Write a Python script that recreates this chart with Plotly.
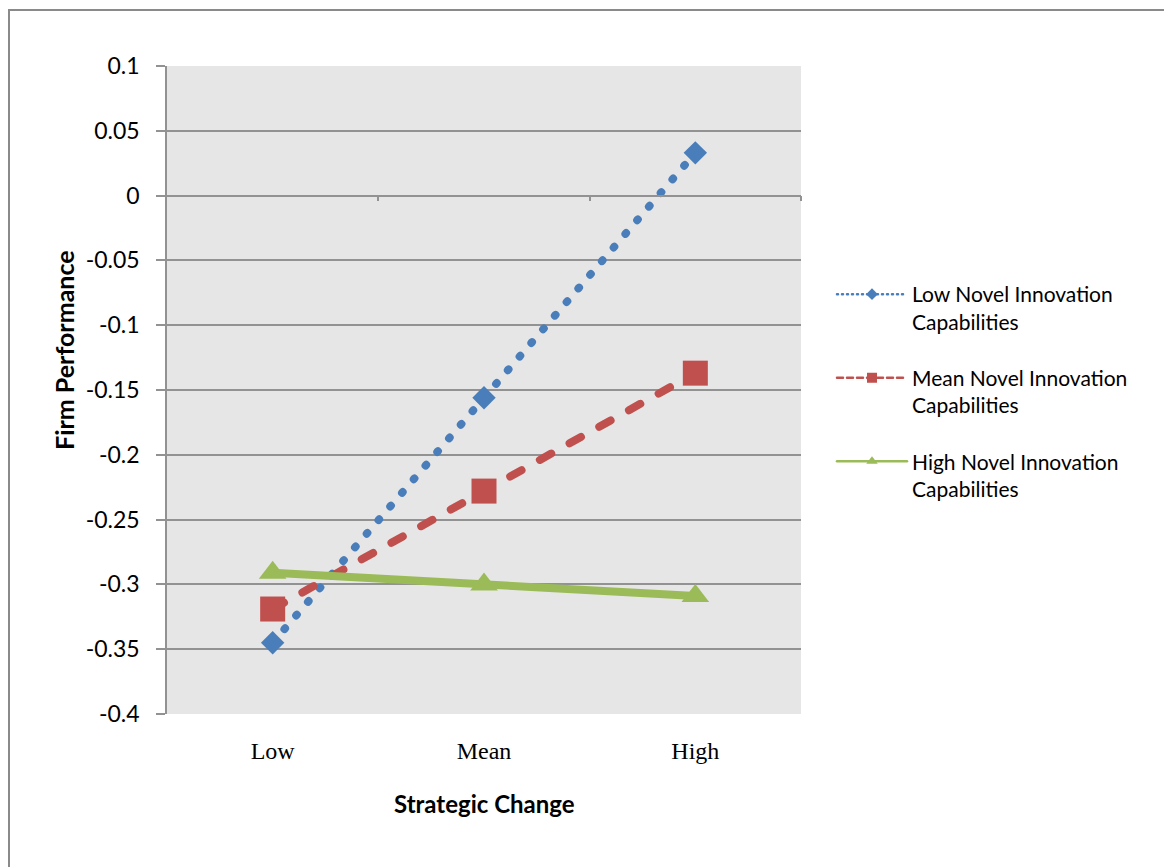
import plotly.graph_objects as go

# Strategic change levels on the x axis
categories = ["Low", "Mean", "High"]

# Simple slopes of firm performance for three levels of novel innovation capabilities
low_nic = [-0.345, -0.156, 0.033]
mean_nic = [-0.319, -0.228, -0.137]
high_nic = [-0.291, -0.300, -0.309]

series_names = [
    "Low Novel Innovation<br>Capabilities",
    "Mean Novel Innovation<br>Capabilities",
    "High Novel Innovation<br>Capabilities",
]

# Y axis ticks (hyphen-minus labels)
y_tickvals = [0.1, 0.05, 0, -0.05, -0.1, -0.15, -0.2, -0.25, -0.3, -0.35, -0.4]
y_ticktext = ["0.1", "0.05", "0", "-0.05", "-0.1", "-0.15", "-0.2", "-0.25", "-0.3", "-0.35", "-0.4"]

BLUE = "#4a7ebb"
RED = "#c0504d"
GREEN = "#9bbb59"
GRID = "#929292"
SANS = "Lato, 'Open Sans', sans-serif"
SERIF = "'Liberation Serif', 'Times New Roman', serif"

fig = go.Figure()

# Plotted series (drawn in series order so the last one sits on top)
fig.add_trace(go.Scatter(
    x=categories, y=low_nic, mode="lines+markers", showlegend=False,
    line=dict(color=BLUE, width=8, dash="1px,17px"),
    marker=dict(symbol="diamond", size=18, color=BLUE, line=dict(width=0)),
    hoverinfo="skip",
))
fig.add_trace(go.Scatter(
    x=categories, y=mean_nic, mode="lines+markers", showlegend=False,
    line=dict(color=RED, width=8, dash="13px,21px"),
    marker=dict(symbol="square", size=25, color=RED, line=dict(width=0)),
    hoverinfo="skip",
))
fig.add_trace(go.Scatter(
    x=categories, y=high_nic, mode="lines+markers", showlegend=False,
    line=dict(color=GREEN, width=8),
    marker=dict(symbol="triangle-up", size=24, color=GREEN, line=dict(width=0)),
    hoverinfo="skip",
))

# Legend entries with thinner lines and small symbols
legend_styles = [
    dict(color=BLUE, dash="1px,4px", symbol="diamond", size=9),
    dict(color=RED, dash="6px,4px", symbol="square", size=10),
    dict(color=GREEN, dash="solid", symbol="triangle-up", size=10),
]
for i, (name, st) in enumerate(zip(series_names, legend_styles)):
    fig.add_trace(go.Scatter(
        x=[None], y=[None], mode="lines+markers", name=name,
        legendgroup=f"g{i}",
        line=dict(color=st["color"], width=2.5, dash=st["dash"]),
        marker=dict(symbol=st["symbol"], size=st["size"], color=st["color"], line=dict(width=0)),
    ))

# Horizontal axis line crossing at zero with category-boundary tick marks
fig.add_trace(go.Scatter(x=[None], y=[None], xaxis="x2", showlegend=False, hoverinfo="skip"))

L, R, T, B = 167, 801, 66, 714
W, H = 1164, 867
plot_h = B - T
zero_frac = (0 - (-0.4)) / 0.5

fig.update_layout(
    width=W, height=H,
    margin=dict(l=L, r=W - R, t=T, b=H - B, pad=0),
    paper_bgcolor="white",
    plot_bgcolor="#e6e6e6",
    xaxis=dict(
        type="category", range=[-0.5, 2.5], showgrid=False, zeroline=False,
        showline=False, ticks="", fixedrange=True,
        tickfont=dict(family=SERIF, size=24, color="black"),
        ticklabelstandoff=20,
    ),
    xaxis2=dict(
        overlaying="x", anchor="free", position=zero_frac, range=[-0.5, 2.5],
        showgrid=False, zeroline=False, showline=True, linecolor=GRID, linewidth=1.5,
        tickvals=[0.5, 1.5, 2.5], ticks="outside", ticklen=5, tickcolor=GRID,
        tickwidth=1.5, showticklabels=False, fixedrange=True,
    ),
    yaxis=dict(
        range=[-0.4, 0.1], tickvals=y_tickvals, ticktext=y_ticktext,
        showgrid=True, gridcolor=GRID, gridwidth=1.5, zeroline=False,
        showline=True, linecolor=GRID, linewidth=1.5,
        ticks="outside", ticklen=9, tickcolor=GRID, tickwidth=1.5,
        tickfont=dict(family=SANS, size=23, color="black"),
        ticklabelstandoff=12, fixedrange=True,
    ),
    legend=dict(
        xref="container", yref="container", x=832 / W, y=1 - 274 / H,
        xanchor="left", yanchor="top", valign="top",
        itemwidth=70, tracegroupgap=26,
        font=dict(family=SANS, size=21, color="black"),
        bgcolor="rgba(0,0,0,0)", borderwidth=0,
    ),
    annotations=[
        dict(text="<b>Firm Performance</b>", textangle=-90, xref="paper", yref="paper",
             x=(64 - L) / (R - L), y=(B - 350) / plot_h, xanchor="center", yanchor="middle",
             showarrow=False, font=dict(family=SANS, size=25, color="black")),
        dict(text="<b>Strategic Change</b>", xref="paper", yref="paper",
             x=0.5, y=(B - 803) / plot_h, xanchor="center", yanchor="middle",
             showarrow=False, font=dict(family=SANS, size=24, color="black")),
    ],
    shapes=[
        # outer chart frame
        dict(type="rect", xref="paper", yref="paper", layer="above",
             x0=(9 - L) / (R - L), x1=(W + 20 - L) / (R - L),
             y0=(B - (H + 20)) / plot_h, y1=(B - 10) / plot_h,
             line=dict(color="#8a8a8a", width=2), fillcolor="rgba(0,0,0,0)"),
    ],
)

# Round line caps turn the dash patterns into dots and rounded dashes
post = """
var gd = document.getElementById('{plot_id}');
gd.querySelectorAll('path.js-line').forEach(function(p){ p.style.strokeLinecap = 'round'; });
"""

fig.write_html("out.html", post_script=post, config={"displayModeBar": False})
